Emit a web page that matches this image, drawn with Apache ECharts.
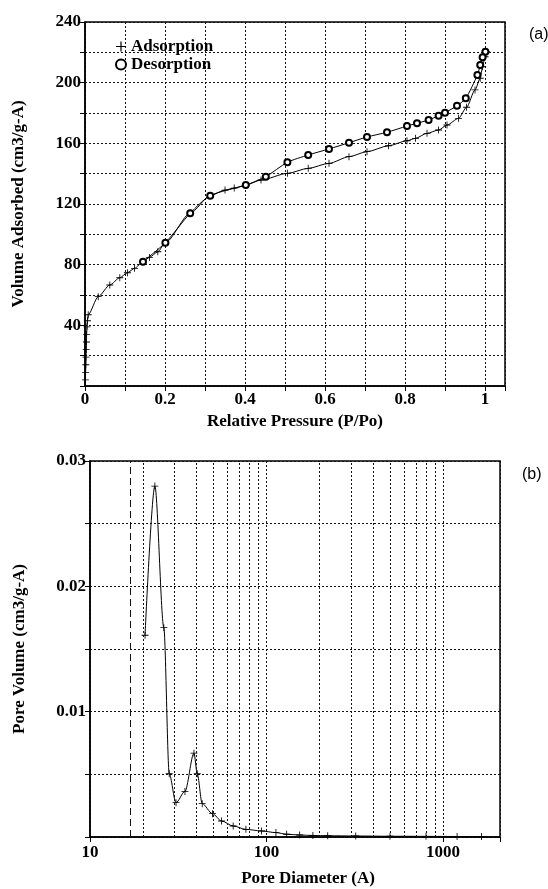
<!DOCTYPE html>
<html>
<head>
<meta charset="utf-8">
<style>
  html, body { margin: 0; padding: 0; background: #fff; }
  #chart { width: 548px; height: 889px; }
</style>
<script src="https://cdn.jsdelivr.net/npm/echarts@6/dist/echarts.min.js"></script>
</head>
<body>
<div id="chart"></div>
<script>
// (a) nitrogen isotherm: relative pressure vs. volume adsorbed
const adsP = [0.001, 0.0015, 0.002, 0.0025, 0.003, 0.0035, 0.004, 0.005, 0.006, 0.008,
  0.033, 0.062, 0.087, 0.106, 0.124, 0.145, 0.161, 0.182, 0.201, 0.263, 0.313, 0.35,
  0.373, 0.402, 0.44, 0.506, 0.558, 0.61, 0.66, 0.705, 0.759, 0.805, 0.826, 0.855,
  0.884, 0.905, 0.934, 0.954, 0.975, 0.988, 0.994, 1.0, 1.004];
const adsV = [4, 9, 14, 19, 24, 29, 34, 39, 43, 47,
  58.9, 66.6, 71.4, 74.7, 77.6, 82, 84.8, 88.5, 94.5, 113.9, 125.5, 129.2,
  130.5, 132.5, 135.8, 140.2, 143.5, 146.8, 151.2, 154.5, 158.4, 161.7, 163.3, 166.6,
  168.8, 172.1, 176.5, 183.8, 195.2, 202.9, 210.5, 217.1, 220.4];

const desP = [1.001, 0.994, 0.988, 0.981, 0.952, 0.93, 0.9, 0.884, 0.859, 0.83, 0.805,
  0.755, 0.705, 0.66, 0.61, 0.558, 0.506, 0.452, 0.402, 0.313, 0.263, 0.201, 0.145];
const desV = [220.4, 216.7, 211.6, 205.1, 189.7, 184.8, 180.2, 178.2, 175.4, 173.2, 171.4,
  167.3, 164.2, 160.4, 156.3, 152.3, 147.5, 138, 132.5, 125.5, 113.9, 94.5, 82];

// (b) pore size distribution: pore diameter (log) vs. pore volume
const poreD = [20.5, 23.3, 26.2, 28.1, 30.7, 34.5, 38.8, 40.5, 43.2, 49.4, 55.6, 64.7,
  76.4, 93.7, 113, 130, 154, 183, 222, 320, 500, 800, 1200, 1650];
const poreV = [0.0161, 0.028, 0.0167, 0.00505, 0.00274, 0.00364, 0.00669, 0.00505,
  0.00266, 0.00186, 0.00128, 0.00088, 0.00061, 0.00048, 0.00035, 0.00022, 0.00016,
  0.00012, 0.0001, 0.00008, 0.00006, 0.00005, 0.00004, 0.00003];

// Tick labels
const isoXLabels = ['0', '0.2', '0.4', '0.6', '0.8', '1'];
const isoYLabels = ['40', '80', '120', '160', '200', '240'];
const poreXLabels = ['10', '100', '1000'];
const poreYLabels = ['0.01', '0.02', '0.03'];

// Minor log grid lines and the lower measurement limit
const poreMinorGrid = [20, 30, 40, 50, 60, 70, 80, 90, 200, 300, 400, 500, 600, 700, 800, 900];
const poreLimit = 17;

const SERIF = '"Liberation Serif", "DejaVu Serif", serif';
const SANS = '"Liberation Sans", Arial, sans-serif';
const plusPath = 'path://M4.4,0h1.2v4.4h4.4v1.2h-4.4v4.4h-1.2v-4.4h-4.4v-1.2h4.4z';

const gridLine = { show: true, lineStyle: { color: '#111', width: 1, type: [2, 2] } };
const axisLine = { show: true, lineStyle: { color: '#000', width: 1.5 } };
const axisTick = { show: true, inside: false, length: 5, lineStyle: { color: '#000', width: 1 } };
const tickFont = { color: '#000', fontFamily: SERIF, fontWeight: 'bold', fontSize: 17 };
const nameFont = { color: '#000', fontFamily: SERIF, fontWeight: 'bold', fontSize: 17 };

function pick(list, text) { return list.indexOf(text) >= 0 ? text : ''; }

// Label text for a tick on the pore-volume axis: only whole hundredths are printed
function poreYText(v) {
  const milli = Math.round(v * 1000);
  return milli % 10 === 0 ? pick(poreYLabels, (milli / 1000).toFixed(2)) : '';
}

const chart = echarts.init(document.getElementById('chart'), null, { renderer: 'canvas' });

chart.setOption({
  animation: false,
  backgroundColor: '#fff',
  title: [
    { text: '(a)', left: 524, top: 22, textStyle: { fontFamily: SANS, fontWeight: 'normal', fontSize: 16, color: '#000' } },
    { text: '(b)', left: 517, top: 462, textStyle: { fontFamily: SANS, fontWeight: 'normal', fontSize: 16, color: '#000' } }
  ],
  legend: {
    orient: 'vertical', left: 110, top: 33, itemWidth: 10, itemHeight: 10, itemGap: 1,
    textStyle: { color: '#000', fontFamily: SERIF, fontWeight: 'bold', fontSize: 17, lineHeight: 17 },
    data: [
      { name: 'Adsorption', icon: plusPath },
      { name: 'Desorption', icon: 'emptyCircle' }
    ]
  },
  grid: [
    { left: 85, right: 43, top: 22, bottom: 503, show: true, borderColor: '#000', borderWidth: 1.5 },
    { left: 90, right: 48, top: 461, bottom: 52, show: true, borderColor: '#000', borderWidth: 1.5 }
  ],
  xAxis: [
    {
      gridIndex: 0, type: 'value', min: 0, max: 1.05, interval: 0.1,
      name: 'Relative Pressure (P/Po)', nameLocation: 'middle', nameGap: 27, nameTextStyle: nameFont,
      axisLine, axisTick, splitLine: gridLine,
      axisLabel: Object.assign({ margin: 5, formatter: v => pick(isoXLabels, String(+v.toFixed(2))) }, tickFont)
    },
    {
      gridIndex: 1, type: 'log', logBase: 10, min: 10, max: 2100, splitNumber: 2,
      name: 'Pore Diameter (A)', nameLocation: 'middle', nameGap: 33,
      nameTextStyle: Object.assign({ padding: [0, 0, 0, 26] }, nameFont),
      axisLine, axisTick, splitLine: gridLine,
      axisLabel: Object.assign({ margin: 7, formatter: v => pick(poreXLabels, String(Math.round(v))) }, tickFont)
    }
  ],
  yAxis: [
    {
      gridIndex: 0, type: 'value', min: 0, max: 240, interval: 20,
      name: 'Volume Adsorbed (cm3/g-A)', nameLocation: 'middle', nameGap: 58, nameTextStyle: nameFont,
      axisLine, axisTick, splitLine: gridLine,
      axisLabel: Object.assign({ margin: 4, formatter: v => pick(isoYLabels, String(Math.round(v))) }, tickFont)
    },
    {
      gridIndex: 1, type: 'value', min: 0, max: 0.03, interval: 0.005,
      name: 'Pore Volume (cm3/g-A)', nameLocation: 'middle', nameGap: 62, nameTextStyle: nameFont,
      axisLine, axisTick, splitLine: gridLine,
      axisLabel: Object.assign({ margin: 4, formatter: poreYText }, tickFont)
    }
  ],
  series: [
    {
      name: 'Adsorption', type: 'line', xAxisIndex: 0, yAxisIndex: 0,
      data: adsP.map((p, i) => [p, adsV[i]]),
      smooth: 0.25, smoothMonotone: 'x',
      symbol: plusPath, symbolSize: 7,
      lineStyle: { color: '#000', width: 1 },
      itemStyle: { color: '#000' }
    },
    {
      name: 'Desorption', type: 'line', xAxisIndex: 0, yAxisIndex: 0,
      data: desP.map((p, i) => [p, desV[i]]),
      smooth: 0.25,
      symbol: 'emptyCircle', symbolSize: 6,
      lineStyle: { color: '#000', width: 1 },
      itemStyle: { color: '#000', borderColor: '#000', borderWidth: 0.9 }
    },
    {
      name: 'Pore Volume', type: 'line', xAxisIndex: 1, yAxisIndex: 1,
      data: poreD.map((d, i) => [d, poreV[i]]),
      smooth: 0.3, smoothMonotone: 'x',
      symbol: plusPath, symbolSize: 7,
      lineStyle: { color: '#000', width: 1 },
      itemStyle: { color: '#000' },
      markLine: {
        silent: true, symbol: ['none', 'none'], label: { show: false },
        data: poreMinorGrid.map(d => ({ xAxis: d, lineStyle: { color: '#111', width: 1, type: [2, 2] } }))
          .concat([{ xAxis: poreLimit, lineStyle: { color: '#111', width: 1, type: [7, 4] } }])
      }
    }
  ]
});
</script>
</body>
</html>
